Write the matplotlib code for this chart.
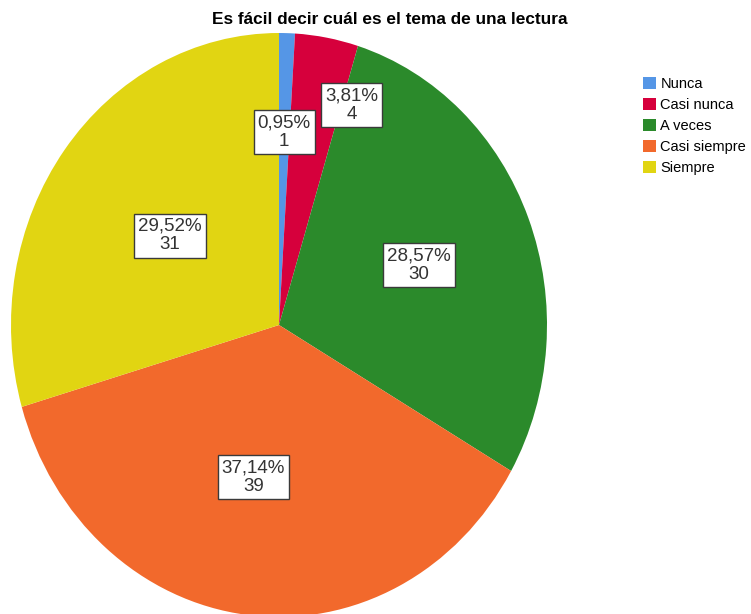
import numpy as np
import matplotlib.pyplot as plt

plt.rcParams['font.family'] = ['Liberation Sans', 'DejaVu Sans']

categories = ["Nunca", "Casi nunca", "A veces", "Casi siempre", "Siempre"]
counts = [1, 4, 30, 39, 31]
percent_labels = ["0,95%", "3,81%", "28,57%", "37,14%", "29,52%"]
colors = ["#5596e6", "#d6003c", "#2b8a2b", "#f2692c", "#e1d512"]

# label placement (fraction of radius, angular shift in degrees)
label_r = [0.66, 0.80, 0.56, 0.53, 0.51]
label_shift = [0, 9.5, 0, 3.5, 0]

W, H = 751, 614
fig = plt.figure(figsize=(W / 100, H / 100), dpi=100)

# pie ellipse bbox in pixels (slightly stretched vertically like the original)
cx, cy, rx, ry = 279, 325, 268, 292
ax = fig.add_axes([(cx - rx) / W, (H - cy - ry) / H, 2 * rx / W, 2 * ry / H])
wedges, _ = ax.pie(counts, colors=colors, startangle=90, counterclock=False,
                   radius=1, wedgeprops=dict(linewidth=0))
ax.set_aspect('auto')
ax.set_xlim(-1, 1)
ax.set_ylim(-1, 1)
ax.axis('off')

total = sum(counts)
start = 0.0
for i, c in enumerate(counts):
    mid = start + c / total * 180 + label_shift[i]
    start += c / total * 360
    theta = np.deg2rad(90 - mid)
    x, y = label_r[i] * np.cos(theta), label_r[i] * np.sin(theta)
    ax.text(x, y, f"{percent_labels[i]}\n{counts[i]}", ha='center', va='center',
            fontsize=13.5, color='#333333', linespacing=1.12,
            bbox=dict(boxstyle='square,pad=0.22', fc='white', ec='#3a3a3a', lw=1))

fig.text(390 / W, 1 - 20 / H, "Es fácil decir cuál es el tema de una lectura",
         ha='center', va='center', fontsize=12.4, fontweight='bold')

fig.legend(wedges, categories, loc='upper left', bbox_to_anchor=(643 / W, 1 - 77 / H),
           frameon=False, fontsize=10.5, handlelength=0.9, handleheight=0.9,
           handletextpad=0.3, labelspacing=0.47, borderpad=0, borderaxespad=0)

fig.savefig("out.png", dpi=100)
